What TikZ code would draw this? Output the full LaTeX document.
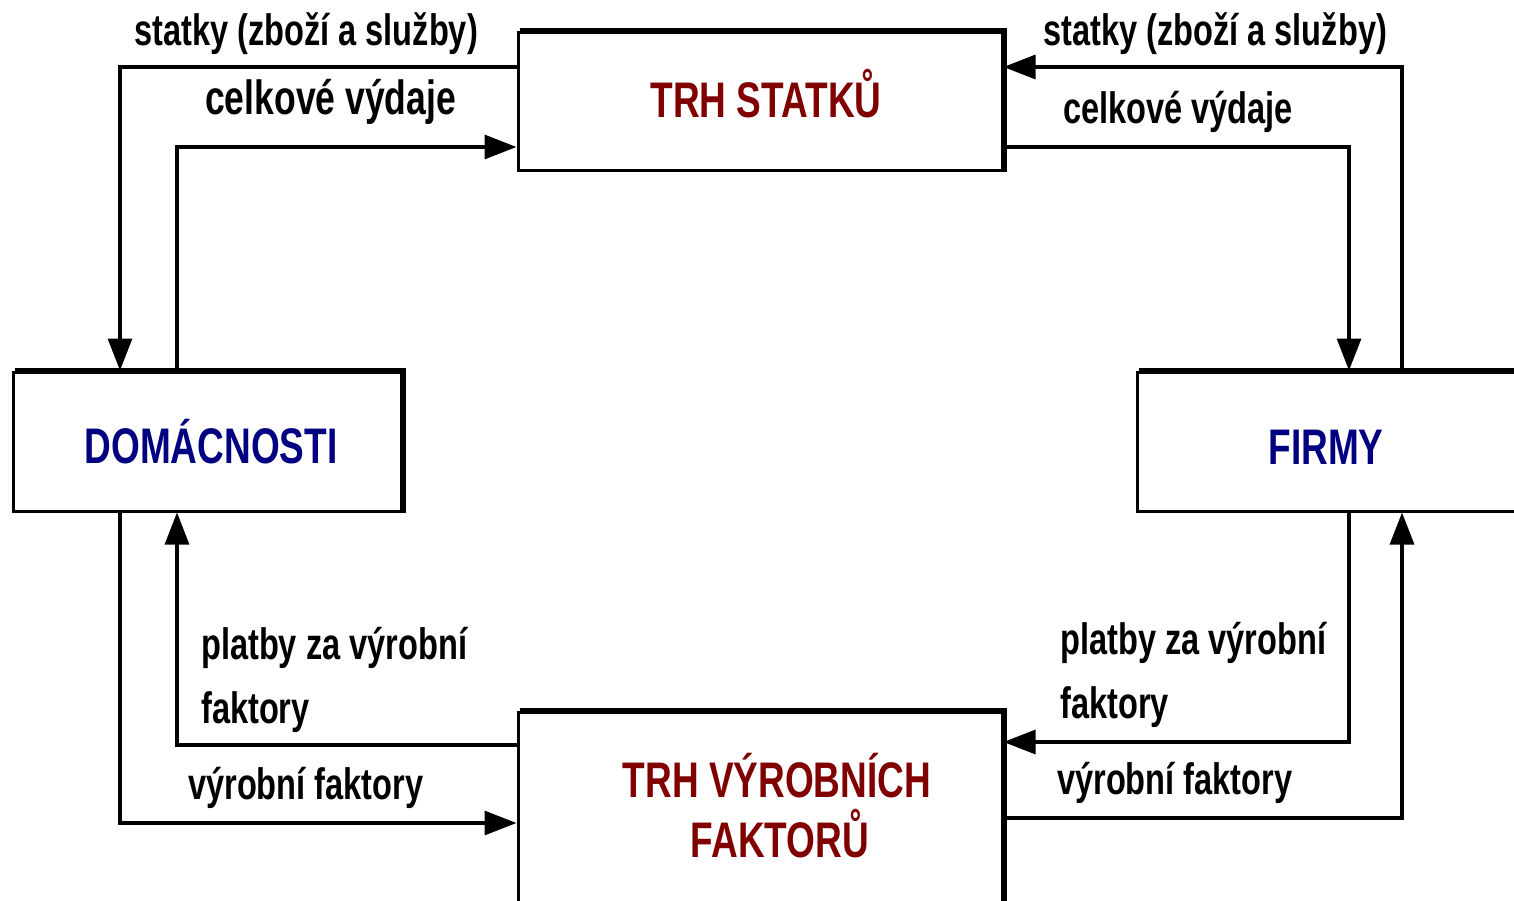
\documentclass[tikz,border=0pt]{standalone}
\usepackage{fontspec}
\setmainfont{Liberation Sans}[FakeStretch=0.74]
\usetikzlibrary{arrows.meta}
\definecolor{boxred}{RGB}{128,0,0}
\definecolor{boxblue}{RGB}{0,0,128}
\begin{document}
\begin{tikzpicture}[x=1pt,y=-1pt,
  box/.style={draw, line width=3pt, rectangle, inner sep=0pt},
  edgethick/.style={line width=6pt, line join=miter},
  flow/.style={line width=3.2pt, -{Triangle[length=32pt,width=24pt]}},
  lab/.style={font=\fontsize{44}{46}\selectfont\bfseries, inner sep=0pt, anchor=base west},
  biglab/.style={font=\fontsize{48}{50}\selectfont\bfseries, inner sep=0pt, anchor=base west},
  redtxt/.style={font=\fontsize{50}{52}\selectfont\bfseries, text=boxred, inner sep=0pt, anchor=base},
  bluetxt/.style={font=\fontsize{50}{52}\selectfont\bfseries, text=boxblue, inner sep=0pt, anchor=base}
]
\useasboundingbox (0,0) rectangle (1514,901);

% boxes
\node[box, minimum width=484pt, minimum height=138pt] (ts) at (760,102) {};
\node[box, minimum width=388pt, minimum height=139pt] (dom) at (207,441.5) {};
\node[box, minimum width=463pt, minimum height=139pt] (firmy) at (1368.5,441.5) {};
\node[box, minimum width=484pt, minimum height=288pt] (tv) at (760,856) {};

% thick top/right edges
\draw[edgethick] ([xshift=3pt]ts.north west) -- (ts.north east) -- (ts.south east);
\draw[edgethick] ([xshift=3pt]dom.north west) -- (dom.north east) -- (dom.south east);
\draw[edgethick] ([xshift=3pt]firmy.north west) -- (firmy.north east);
\draw[edgethick] ([xshift=3pt]tv.north west) -- (tv.north east) -- (tv.south east);

% box texts
\node[redtxt] (tst) at (766,118) {TRH STATKŮ};
\node[bluetxt] (domt) at (211,463) {DOMÁCNOSTI};
\node[bluetxt] (firmyt) at (1326,464) {FIRMY};
\node[redtxt] (tvt1) at (777,797) {TRH VÝROBNÍCH};
\node[redtxt] (tvt2) at (780,857) {FAKTORŮ};

% connectors
\draw[flow] (ts.west |- 0,67) -| (dom.north -| 120,0);
\draw[flow] (dom.north -| 177,0) |- (ts.west |- 0,147);
\draw[flow] (firmy.north -| 1402,0) |- (ts.east |- 0,67);
\draw[flow] (ts.east |- 0,147) -| (firmy.north -| 1349,0);
\draw[flow] (tv.west |- 0,745) -| (dom.south -| 177,0);
\draw[flow] (dom.south -| 120,0) |- (tv.west |- 0,823);
\draw[flow] (firmy.south -| 1349,0) |- (tv.east |- 0,742);
\draw[flow] (tv.east |- 0,818) -| (firmy.south -| 1402,0);

% labels
\node[lab] (l1) at (134,46) {statky (zboží a služby)};
\node[lab] (l2) at (1043,46) {statky (zboží a služby)};
\node[biglab] (l3) at (205,115) {celkové výdaje};
\node[lab] (l4) at (1063,124) {celkové výdaje};
\node[lab] (l5) at (201,659) {platby za výrobní};
\node[lab] (l6) at (201,723) {faktory};
\node[lab] (l7) at (1060,654) {platby za výrobní};
\node[lab] (l8) at (1060,718) {faktory};
\node[lab] (l9) at (188,799) {výrobní faktory};
\node[lab] (l10) at (1057,794) {výrobní faktory};
\end{tikzpicture}
\end{document}
